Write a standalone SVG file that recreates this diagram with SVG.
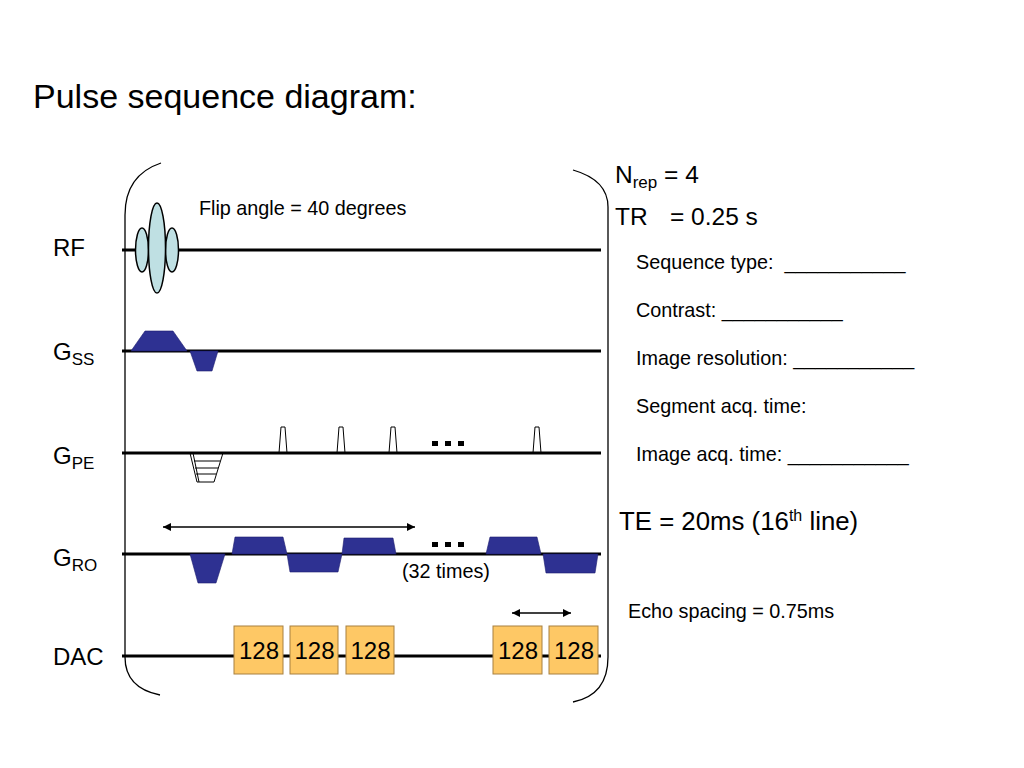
<svg xmlns="http://www.w3.org/2000/svg" width="1024" height="768" viewBox="0 0 1024 768">
<defs>
<style>
text{font-family:"Liberation Sans",Arial,sans-serif;fill:#000}
.axis{stroke:#000;stroke-width:3;fill:none}
.grad{fill:#2e3192;stroke:#1c1d6e;stroke-width:0.6}
.rf{fill:#bfe0e3;stroke:#000;stroke-width:1.5}
.dac{fill:#fec865;stroke:#a88040;stroke-width:1}
.br{fill:none;stroke:#000;stroke-width:1.3}
.lbl{font-size:24px}
.sub{font-size:17px}
.sm{font-size:19.8px}
.big{font-size:24.5px}
.num{font-size:24px;text-anchor:middle}
.thin{fill:none;stroke:#000;stroke-width:1}
</style>
<marker id="ah" viewBox="0 0 10 10" refX="10" refY="5" markerWidth="10" markerHeight="8" markerUnits="userSpaceOnUse" orient="auto-start-reverse">
<path d="M0,0 L10,5 L0,10 z" fill="#000"/>
</marker>
</defs>
<rect width="1024" height="768" fill="#fff"/>

<text x="33" y="108" font-size="34">Pulse sequence diagram:</text>

<g id="brackets">
<path class="br" d="M161,163 Q125,175 125,215 V657 Q125,688 160,695"/>
<path class="br" d="M573,170 Q608,180 608,207 V657 Q608,695 573,702"/>
</g>

<g id="rf">
<text class="lbl" x="53" y="256">RF</text>
<line class="axis" x1="122" y1="250" x2="601" y2="250"/>
<ellipse class="rf" cx="142" cy="250" rx="6.5" ry="22"/>
<ellipse class="rf" cx="172" cy="250" rx="6.5" ry="22"/>
<ellipse class="rf" cx="157" cy="248" rx="8.5" ry="45"/>
<text class="sm" x="199" y="215">Flip angle = 40 degrees</text>
</g>

<g id="gss">
<text class="lbl" x="53" y="360">G<tspan class="sub" dy="5">SS</tspan></text>
<line class="axis" x1="122" y1="351" x2="601" y2="351"/>
<path class="grad" d="M131,351 L145,331 L173,331 L187,351 Z"/>
<path class="grad" d="M190,351 L197,371 L212,371 L218,351 Z"/>
</g>

<g id="gpe">
<text class="lbl" x="53" y="464">G<tspan class="sub" dy="5">PE</tspan></text>
<line class="axis" x1="122" y1="453" x2="601" y2="453"/>
<path class="thin" d="M190,453 L197,482 L214,482 L223,453"/>
<path class="thin" d="M193,453 L199,482"/>
<line class="thin" x1="194" y1="461" x2="220" y2="461"/>
<line class="thin" x1="195" y1="468" x2="218" y2="468"/>
<line class="thin" x1="196" y1="474" x2="216" y2="474"/>
<path class="thin" d="M279,453 L281,427 L285,427 L287,453"/>
<path class="thin" d="M337,453 L339,427 L343,427 L345,453"/>
<path class="thin" d="M389,453 L391,427 L395,427 L397,453"/>
<path class="thin" d="M533,453 L535,427 L539,427 L541,453"/>
<rect x="432" y="441" width="6" height="5"/>
<rect x="445" y="441" width="6" height="5"/>
<rect x="458" y="441" width="6" height="5"/>
</g>

<g id="gro">
<text class="lbl" x="53" y="566">G<tspan class="sub" dy="5">RO</tspan></text>
<line class="axis" x1="122" y1="554" x2="601" y2="554"/>
<path class="grad" d="M190,554 L198,583 L216,583 L225,554 Z"/>
<path class="grad" d="M232,554 L235,537 L283,537 L287,554 Z"/>
<path class="grad" d="M287,554 L290,572 L338,572 L342,554 Z"/>
<path class="grad" d="M342,554 L344,538 L393,538 L396,554 Z"/>
<path class="grad" d="M486,554 L490,537 L537,537 L541,554 Z"/>
<path class="grad" d="M543,554 L546,573 L595,573 L598,554 Z"/>
<rect x="432" y="542" width="6" height="5"/>
<rect x="445" y="542" width="6" height="5"/>
<rect x="458" y="542" width="6" height="5"/>
<text class="sm" x="402" y="578">(32 times)</text>
</g>

<g id="dac">
<text class="lbl" x="53" y="665">DAC</text>
<line class="axis" x1="122" y1="656" x2="601" y2="656"/>
<rect class="dac" x="234" y="626" width="49" height="48"/>
<rect class="dac" x="290" y="626" width="48" height="48"/>
<rect class="dac" x="346" y="626" width="48" height="48"/>
<rect class="dac" x="493" y="626" width="49" height="48"/>
<rect class="dac" x="549" y="626" width="49" height="48"/>
<text class="num" x="259" y="659">128</text>
<text class="num" x="314.5" y="659">128</text>
<text class="num" x="370.5" y="659">128</text>
<text class="num" x="518" y="659">128</text>
<text class="num" x="574" y="659">128</text>
</g>

<g id="connectors">
<line x1="163" y1="527" x2="415" y2="527" stroke="#000" stroke-width="1.3" marker-start="url(#ah)" marker-end="url(#ah)"/>
<line x1="512" y1="613" x2="571" y2="613" stroke="#000" stroke-width="1.3" marker-start="url(#ah)" marker-end="url(#ah)"/>
</g>

<g id="params">
<text class="big" x="615" y="183">N<tspan font-size="17" dy="5">rep</tspan><tspan dy="-5"> = 4</tspan></text>
<text class="big" x="615" y="225">TR</text>
<text class="big" x="670" y="225">= 0.25 s</text>
<text class="sm" x="636" y="269" xml:space="preserve">Sequence type:  ___________</text>
<text class="sm" x="636" y="317">Contrast: ___________</text>
<text class="sm" x="636" y="365">Image resolution: ___________</text>
<text class="sm" x="636" y="413">Segment acq. time:</text>
<text class="sm" x="636" y="461">Image acq. time: ___________</text>
<text x="619" y="530" font-size="25.8">TE = 20ms (16<tspan font-size="16" dy="-9">th</tspan><tspan dy="9"> line)</tspan></text>
<text class="sm" x="628" y="618">Echo spacing = 0.75ms</text>
</g>
</svg>
